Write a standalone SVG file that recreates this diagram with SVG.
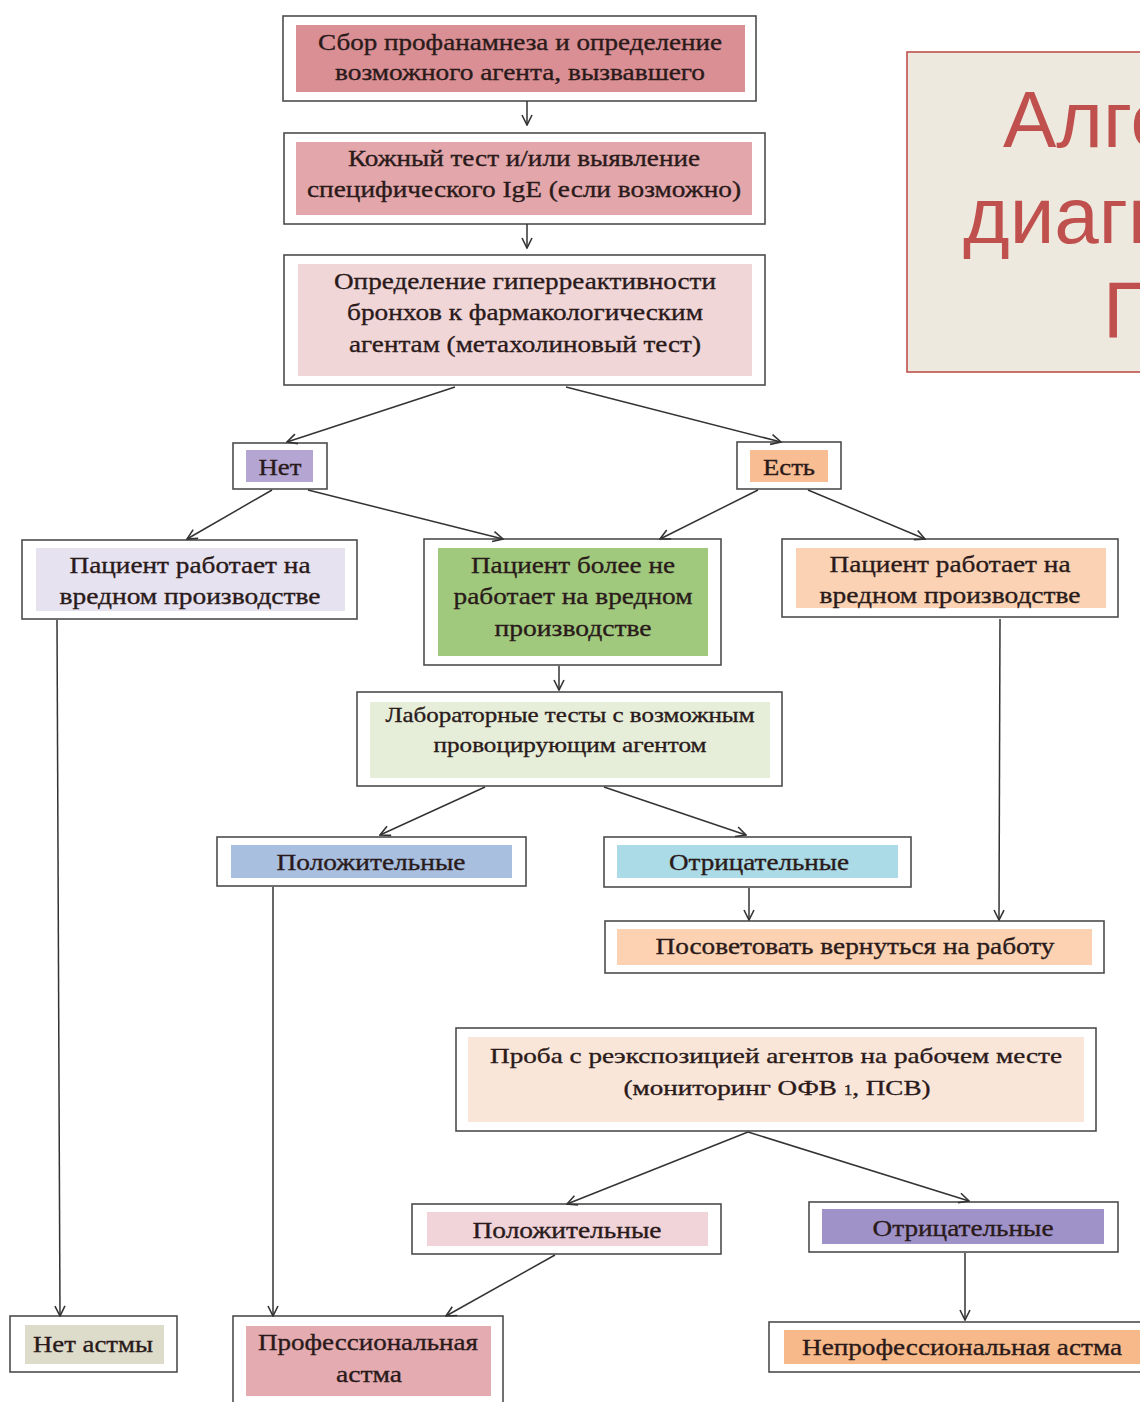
<svg xmlns="http://www.w3.org/2000/svg" width="1140" height="1402" viewBox="0 0 1140 1402">
<defs>
<marker id="arr" viewBox="0 0 12 12" refX="11" refY="6" markerWidth="12" markerHeight="12" markerUnits="userSpaceOnUse" orient="auto">
<path d="M1,1 L11,6 L1,11" fill="none" stroke="#333" stroke-width="1.6"/>
</marker>
<clipPath id="pageclip"><rect x="0" y="0" width="1140" height="1402"/></clipPath>
</defs>
<style>
.outer{fill:#fff;stroke:#4d4d4d;stroke-width:1.6}
.t{font-family:"Liberation Serif","Times New Roman",serif;font-size:24px;fill:#2a1a1a;stroke:#2a1a1a;stroke-width:0.35;text-anchor:middle}
.ts{font-family:"Liberation Serif","Times New Roman",serif;font-size:22px;fill:#2a1a1a;stroke:#2a1a1a;stroke-width:0.35;text-anchor:middle}
.c line{stroke:#333;stroke-width:1.5;marker-end:url(#arr)}
.title{font-family:"Liberation Sans",Arial,sans-serif;font-size:80px;fill:#c0504d}
</style>
<rect width="1140" height="1402" fill="#fff"/>

<g id="title" clip-path="url(#pageclip)">
<rect x="907" y="52" width="260" height="320" fill="#ede9df" stroke="#c0504d" stroke-width="1.6"/>
<text class="title" x="1003" y="147">Алго</text>
<text class="title" x="963" y="243">диагн</text>
<text class="title" x="1103" y="338">П</text>
</g>

<g id="n1">
<rect class="outer" x="283" y="16" width="473" height="85"/>
<rect x="296" y="25" width="449" height="67" fill="#d98f94"/>
<text class="t" x="520" y="50" textLength="404" lengthAdjust="spacingAndGlyphs">Сбор профанамнеза и определение</text>
<text class="t" x="520" y="80" textLength="370" lengthAdjust="spacingAndGlyphs">возможного агента, вызвавшего</text>
</g>

<g id="n2">
<rect class="outer" x="284" y="133" width="481" height="91"/>
<rect x="296" y="142" width="456" height="73" fill="#e3a7ab"/>
<text class="t" x="524" y="166" textLength="352" lengthAdjust="spacingAndGlyphs">Кожный тест и/или выявление</text>
<text class="t" x="524" y="197" textLength="434" lengthAdjust="spacingAndGlyphs">специфического IgE (если возможно)</text>
</g>

<g id="n3">
<rect class="outer" x="284" y="255" width="481" height="130"/>
<rect x="298" y="264" width="454" height="112" fill="#f1d6d8"/>
<text class="t" x="525" y="289" textLength="382" lengthAdjust="spacingAndGlyphs">Определение гиперреактивности</text>
<text class="t" x="525" y="320" textLength="356" lengthAdjust="spacingAndGlyphs">бронхов к фармакологическим</text>
<text class="t" x="525" y="352" textLength="352" lengthAdjust="spacingAndGlyphs">агентам (метахолиновый тест)</text>
</g>

<g id="no">
<rect class="outer" x="233" y="443" width="94" height="46"/>
<rect x="246" y="450" width="67" height="32" fill="#b4a5d3"/>
<text class="t" x="280" y="475" textLength="43" lengthAdjust="spacingAndGlyphs">Нет</text>
</g>

<g id="yes">
<rect class="outer" x="737" y="442" width="104" height="47"/>
<rect x="750" y="450" width="78" height="32" fill="#f8bd92"/>
<text class="t" x="789" y="475" textLength="52" lengthAdjust="spacingAndGlyphs">Есть</text>
</g>

<g id="n4">
<rect class="outer" x="22" y="540" width="335" height="79"/>
<rect x="36" y="548" width="309" height="63" fill="#e6e2ef"/>
<text class="t" x="190" y="573" textLength="241" lengthAdjust="spacingAndGlyphs">Пациент работает на</text>
<text class="t" x="190" y="604" textLength="261" lengthAdjust="spacingAndGlyphs">вредном производстве</text>
</g>

<g id="n5">
<rect class="outer" x="424" y="539" width="297" height="126"/>
<rect x="438" y="548" width="270" height="108" fill="#a0c97d"/>
<text class="t" x="573" y="573" textLength="204" lengthAdjust="spacingAndGlyphs">Пациент более не</text>
<text class="t" x="573" y="604" textLength="239" lengthAdjust="spacingAndGlyphs">работает на вредном</text>
<text class="t" x="573" y="636" textLength="157" lengthAdjust="spacingAndGlyphs">производстве</text>
</g>

<g id="n6">
<rect class="outer" x="782" y="539" width="336" height="78"/>
<rect x="796" y="548" width="310" height="60" fill="#fbd3b4"/>
<text class="t" x="950" y="572" textLength="241" lengthAdjust="spacingAndGlyphs">Пациент работает на</text>
<text class="t" x="950" y="603" textLength="261" lengthAdjust="spacingAndGlyphs">вредном производстве</text>
</g>

<g id="n7">
<rect class="outer" x="357" y="692" width="425" height="94"/>
<rect x="370" y="702" width="400" height="76" fill="#e6eed9"/>
<text class="ts" x="570" y="722" textLength="369" lengthAdjust="spacingAndGlyphs">Лабораторные тесты с возможным</text>
<text class="ts" x="570" y="752" textLength="273" lengthAdjust="spacingAndGlyphs">провоцирующим агентом</text>
</g>

<g id="n8">
<rect class="outer" x="217" y="837" width="309" height="49"/>
<rect x="231" y="845" width="281" height="33" fill="#a8bfe0"/>
<text class="t" x="371" y="870" textLength="189" lengthAdjust="spacingAndGlyphs">Положительные</text>
</g>

<g id="n9">
<rect class="outer" x="604" y="837" width="307" height="50"/>
<rect x="617" y="845" width="281" height="33" fill="#aadbe6"/>
<text class="t" x="759" y="870" textLength="180" lengthAdjust="spacingAndGlyphs">Отрицательные</text>
</g>

<g id="n10">
<rect class="outer" x="605" y="921" width="499" height="52"/>
<rect x="617" y="929" width="475" height="36" fill="#fcd2b2"/>
<text class="t" x="855" y="954" textLength="399" lengthAdjust="spacingAndGlyphs">Посоветовать вернуться на работу</text>
</g>

<g id="n11">
<rect class="outer" x="456" y="1028" width="640" height="103"/>
<rect x="468" y="1037" width="616" height="85" fill="#fae6d9"/>
<text class="ts" x="776" y="1063" textLength="572" lengthAdjust="spacingAndGlyphs">Проба с реэкспозицией агентов на рабочем месте</text>
<text class="ts" x="777" y="1095" textLength="307" lengthAdjust="spacingAndGlyphs">(мониторинг ОФВ <tspan font-size="14">1</tspan>, ПСВ)</text>
</g>

<g id="n12">
<rect class="outer" x="412" y="1204" width="309" height="50"/>
<rect x="427" y="1212" width="281" height="34" fill="#f1d4d9"/>
<text class="t" x="567" y="1238" textLength="189" lengthAdjust="spacingAndGlyphs">Положительные</text>
</g>

<g id="n13">
<rect class="outer" x="809" y="1202" width="309" height="50"/>
<rect x="822" y="1209" width="282" height="35" fill="#9f92c9"/>
<text class="t" x="963" y="1236" textLength="181" lengthAdjust="spacingAndGlyphs">Отрицательные</text>
</g>

<g id="n14">
<rect class="outer" x="10" y="1316" width="167" height="56"/>
<rect x="25" y="1325" width="139" height="39" fill="#dddccb"/>
<text class="t" x="93" y="1352" textLength="120" lengthAdjust="spacingAndGlyphs">Нет астмы</text>
</g>

<g id="n15">
<rect class="outer" x="233" y="1316" width="270" height="100"/>
<rect x="246" y="1326" width="245" height="70" fill="#e4abb1"/>
<text class="t" x="368" y="1350" textLength="220" lengthAdjust="spacingAndGlyphs">Профессиональная</text>
<text class="t" x="369" y="1382" textLength="66" lengthAdjust="spacingAndGlyphs">астма</text>
</g>

<g id="n16">
<rect class="outer" x="769" y="1322" width="390" height="50"/>
<rect x="784" y="1330" width="370" height="34" fill="#f8b98a"/>
<text class="t" x="962" y="1355" textLength="320" lengthAdjust="spacingAndGlyphs">Непрофессиональная астма</text>
</g>

<g id="connectors" class="c">
<line x1="527" y1="101" x2="527" y2="125"/>
<line x1="527" y1="224" x2="527" y2="248"/>
<line x1="455" y1="387" x2="287" y2="442"/>
<line x1="566" y1="387" x2="781" y2="442"/>
<line x1="272" y1="490" x2="187" y2="539"/>
<line x1="308" y1="490" x2="503" y2="539"/>
<line x1="758" y1="490" x2="660" y2="539"/>
<line x1="808" y1="490" x2="925" y2="539"/>
<line x1="559" y1="666" x2="559" y2="690"/>
<line x1="485" y1="787" x2="380" y2="835"/>
<line x1="604" y1="787" x2="746" y2="835"/>
<line x1="749" y1="888" x2="749" y2="920"/>
<line x1="1000" y1="619" x2="999" y2="920"/>
<line x1="57" y1="620" x2="60" y2="1316"/>
<line x1="273" y1="887" x2="273" y2="1316"/>
<line x1="748" y1="1132" x2="567" y2="1204"/>
<line x1="748" y1="1132" x2="969" y2="1201"/>
<line x1="555" y1="1255" x2="446" y2="1316"/>
<line x1="965" y1="1253" x2="965" y2="1320"/>
</g>
</svg>
